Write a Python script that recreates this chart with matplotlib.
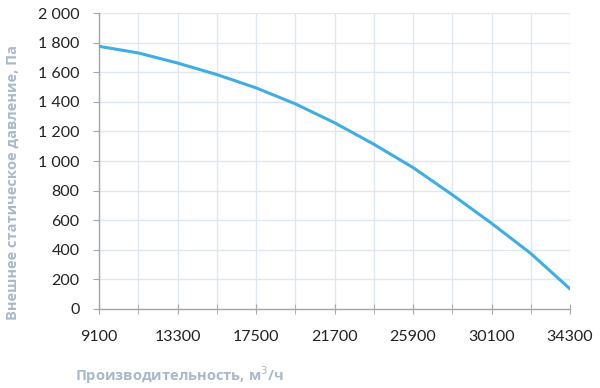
import matplotlib.pyplot as plt
from matplotlib.ticker import FuncFormatter, MultipleLocator, FixedLocator

# flow, m3/h and external static pressure, Pa
flow = [9100, 11200, 13300, 15400, 17500, 19600, 21700,
        23800, 25900, 28000, 30100, 32200, 34300]
pressure = [1776, 1731, 1663, 1585, 1495, 1387, 1259,
            1114, 956, 772, 579, 375, 135]

x_ticks = [9100, 13300, 17500, 21700, 25900, 30100, 34300]
x_minor = [11200, 15400, 19600, 23800, 28000, 32200]

plt.rcParams['font.family'] = ['Lato', 'DejaVu Sans']

fig = plt.figure(figsize=(6, 3.88), dpi=100)
ax = fig.add_axes([0.165, 0.204, 0.785, 0.762])

grid_c = '#dfe7f3'
axis_c = '#a6a6a6'
label_c = '#a9b8cb'

ax.plot(flow, pressure, color='#3fade6', linewidth=2.2, solid_capstyle='round',
        solid_joinstyle='round', zorder=3)

ax.set_xlim(9100, 34300)
ax.set_ylim(0, 2000)
ax.set_xticks(x_ticks)
ax.xaxis.set_minor_locator(FixedLocator(x_minor))
ax.yaxis.set_major_locator(MultipleLocator(200))
ax.yaxis.set_major_formatter(FuncFormatter(lambda v, p: f"{int(v):,}".replace(',', ' ')))

ax.grid(True, which='both', axis='x', color=grid_c, linewidth=1.0)
ax.grid(True, which='major', axis='y', color=grid_c, linewidth=1.0)
ax.set_axisbelow(True)

for s in ['top', 'right']:
    ax.spines[s].set_visible(False)
for s in ['left', 'bottom']:
    ax.spines[s].set_color(axis_c)
    ax.spines[s].set_linewidth(1.0)

ax.tick_params(axis='x', which='both', direction='inout', length=7, color=axis_c,
               labelsize=11.5, pad=12, labelcolor='#222222')
ax.tick_params(axis='y', which='major', direction='out', length=4, color=axis_c,
               labelsize=11.5, pad=10, labelcolor='#222222')

fig.text(0.021, 0.53, 'Внешнее статическое давление, Па', rotation=90,
         ha='center', va='center', color=label_c, fontsize=10.5, fontweight='bold',
         family=['Open Sans', 'DejaVu Sans'])
fig.text(0.125, 0.018, 'Производительность, м$^3$/ч', ha='left', va='baseline',
         color=label_c, fontsize=10.5, fontweight='bold',
         family=['Open Sans', 'DejaVu Sans'])

fig.savefig('out.png', dpi=100)
